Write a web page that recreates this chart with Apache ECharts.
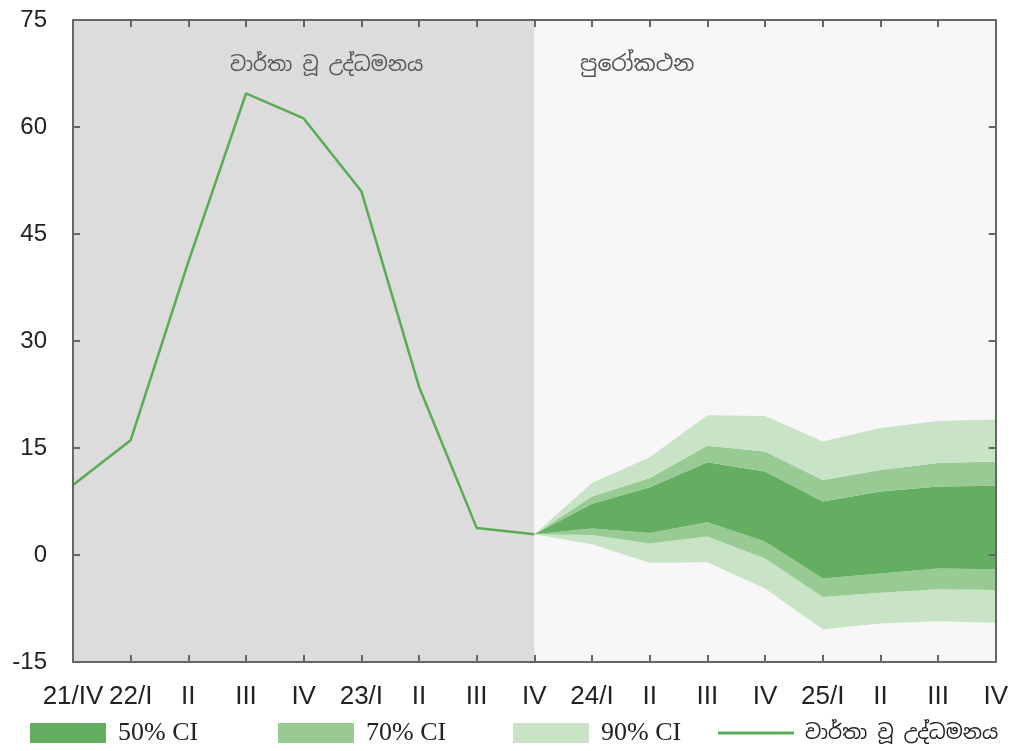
<!DOCTYPE html>
<html><head><meta charset="utf-8">
<script src="https://cdn.jsdelivr.net/npm/echarts@6/dist/echarts.min.js"></script>
<style>html,body{margin:0;padding:0;background:#fff}#c{width:1011px;height:751px}</style>
</head><body><div id="c"></div>
<script>
const categories = ['21/IV','22/I','22/II','22/III','22/IV','23/I','23/II','23/III','23/IV','24/I','24/II','24/III','24/IV','25/I','25/II','25/III','25/IV'];
const tickLabels = ['21/IV','22/I','II','III','IV','23/I','II','III','IV','24/I','II','III','IV','25/I','II','III','IV'];
const yTicks = [-15, 0, 15, 30, 45, 60, 75];
const reported = [9.8, 16.1, 41.1, 64.7, 61.2, 51.0, 23.6, 3.8, 2.9, null, null, null, null, null, null, null, null];
const ci90lo = [null,null,null,null,null,null,null,null, 2.9, 1.5, -1.1, -1.0, -4.7, -10.4, -9.6, -9.3, -9.5];
const ci70lo = [null,null,null,null,null,null,null,null, 2.9, 2.8, 1.6, 2.6, -0.5, -5.9, -5.3, -4.8, -4.9];
const ci50lo = [null,null,null,null,null,null,null,null, 2.9, 3.7, 3.1, 4.6, 1.9, -3.3, -2.6, -1.9, -2.0];
const ci50hi = [null,null,null,null,null,null,null,null, 2.9, 7.2, 9.5, 13.0, 11.7, 7.5, 8.9, 9.6, 9.7];
const ci70hi = [null,null,null,null,null,null,null,null, 2.9, 8.2, 10.8, 15.3, 14.5, 10.5, 11.9, 12.9, 13.1];
const ci90hi = [null,null,null,null,null,null,null,null, 2.9, 10.1, 13.7, 19.6, 19.5, 15.9, 17.8, 18.8, 19.0];
const lineName = 'වාර්තා වූ උද්ධමනය';
const histLabel = 'වාර්තා වූ උද්ධමනය';
const fcLabel = 'පුරෝකථන';

const C50 = '#63ae60', C70 = '#98cb94', C90 = '#c8e3c6', CLINE = '#5aab56';
function diff(a, b) { return a.map((v, i) => (v == null || b[i] == null) ? null : +(v - b[i]).toFixed(3)); }
function band(name, data, color) {
  return { name, type: 'line', stack: 'fan', stackStrategy: 'all', data, symbol: 'none',
    color, lineStyle: { width: 0, opacity: 0 }, areaStyle: { color, opacity: 1 }, z: 2, silent: true };
}
const axisStyle = { show: true, onZero: false, lineStyle: { color: '#666', width: 2 } };
const tickStyle = { show: true, inside: true, length: 7, lineStyle: { color: '#666', width: 2 } };
const chart = echarts.init(document.getElementById('c'));
const sinhalaFont = 'Noto Sans Sinhala, Noto Sans, sans-serif';
const legendBase = { orient: 'horizontal', top: 715, itemWidth: 76, itemHeight: 20, selectedMode: false,
  textStyle: { fontFamily: 'Liberation Serif, Times New Roman, serif', fontSize: 26, color: '#222', padding: [0, 0, 0, 7] } };
chart.setOption({
  animation: false,
  backgroundColor: '#fff',
  grid: { left: 73, right: 13, top: 20, bottom: 89, show: true, backgroundColor: '#f7f7f7', borderWidth: 0 },
  xAxis: [
    { type: 'category', data: categories, boundaryGap: false, axisLine: axisStyle, z: 10,
      axisTick: Object.assign({}, tickStyle, { interval: 0 }),
      axisLabel: { interval: 0, margin: 22, fontSize: 26, color: '#222', fontFamily: 'Liberation Sans, Arial, sans-serif',
        formatter: (v, i) => tickLabels[i] } },
    { type: 'category', data: categories, boundaryGap: false, position: 'top', axisLine: axisStyle, z: 10,
      axisTick: Object.assign({}, tickStyle, { interval: 0 }), axisLabel: { show: false } }
  ],
  yAxis: [
    { type: 'value', min: -15, max: 75, interval: 15, axisLine: axisStyle, axisTick: tickStyle, z: 10,
      splitLine: { show: false },
      axisLabel: { margin: 26, fontSize: 24, color: '#222', fontFamily: 'Liberation Sans, Arial, sans-serif',
        formatter: v => yTicks.includes(v) ? String(v) : '' } },
    { type: 'value', min: -15, max: 75, interval: 15, position: 'right', axisLine: axisStyle, z: 10,
      axisTick: tickStyle, splitLine: { show: false }, axisLabel: { show: false } }
  ],
  legend: [
    Object.assign({}, legendBase, { left: 25, data: [{ name: '50% CI', icon: 'rect', itemStyle: { color: C50 } }] }),
    Object.assign({}, legendBase, { left: 273, data: [{ name: '70% CI', icon: 'rect', itemStyle: { color: C70 } }] }),
    Object.assign({}, legendBase, { left: 508, data: [{ name: '90% CI', icon: 'rect', itemStyle: { color: C90 } }] }),
    Object.assign({}, legendBase, { left: 713, top: 718, itemHeight: 3,
      textStyle: Object.assign({}, legendBase.textStyle, { fontFamily: sinhalaFont, fontSize: 20, padding: [0, 0, 0, 6] }),
      data: [{ name: lineName, icon: 'rect', itemStyle: { color: CLINE } }] })
  ],
  graphic: [
    { type: 'text', left: 230, top: 55, style: { text: histLabel, fontSize: 20, fill: '#555', fontFamily: sinhalaFont }, z: 10 },
    { type: 'text', left: 580, top: 54, style: { text: fcLabel, fontSize: 22, fill: '#555', fontFamily: sinhalaFont }, z: 10 }
  ],
  series: [
    { name: 'base', type: 'line', stack: 'fan', stackStrategy: 'all', data: ci90lo, symbol: 'none',
      lineStyle: { width: 0, opacity: 0 }, z: 2, silent: true,
      markArea: { silent: true, itemStyle: { color: '#dcdcdc' }, data: [[{ xAxis: 0 }, { xAxis: 8 }]] } },
    band('90% CI', diff(ci70lo, ci90lo), C90),
    band('70% CI', diff(ci50lo, ci70lo), C70),
    band('50% CI', diff(ci50hi, ci50lo), C50),
    band('70% CI', diff(ci70hi, ci50hi), C70),
    band('90% CI', diff(ci90hi, ci70hi), C90),
    { name: lineName, type: 'line', data: reported, symbol: 'none', color: CLINE,
      lineStyle: { color: CLINE, width: 2.5 }, z: 5 }
  ]
});
</script></body></html>
